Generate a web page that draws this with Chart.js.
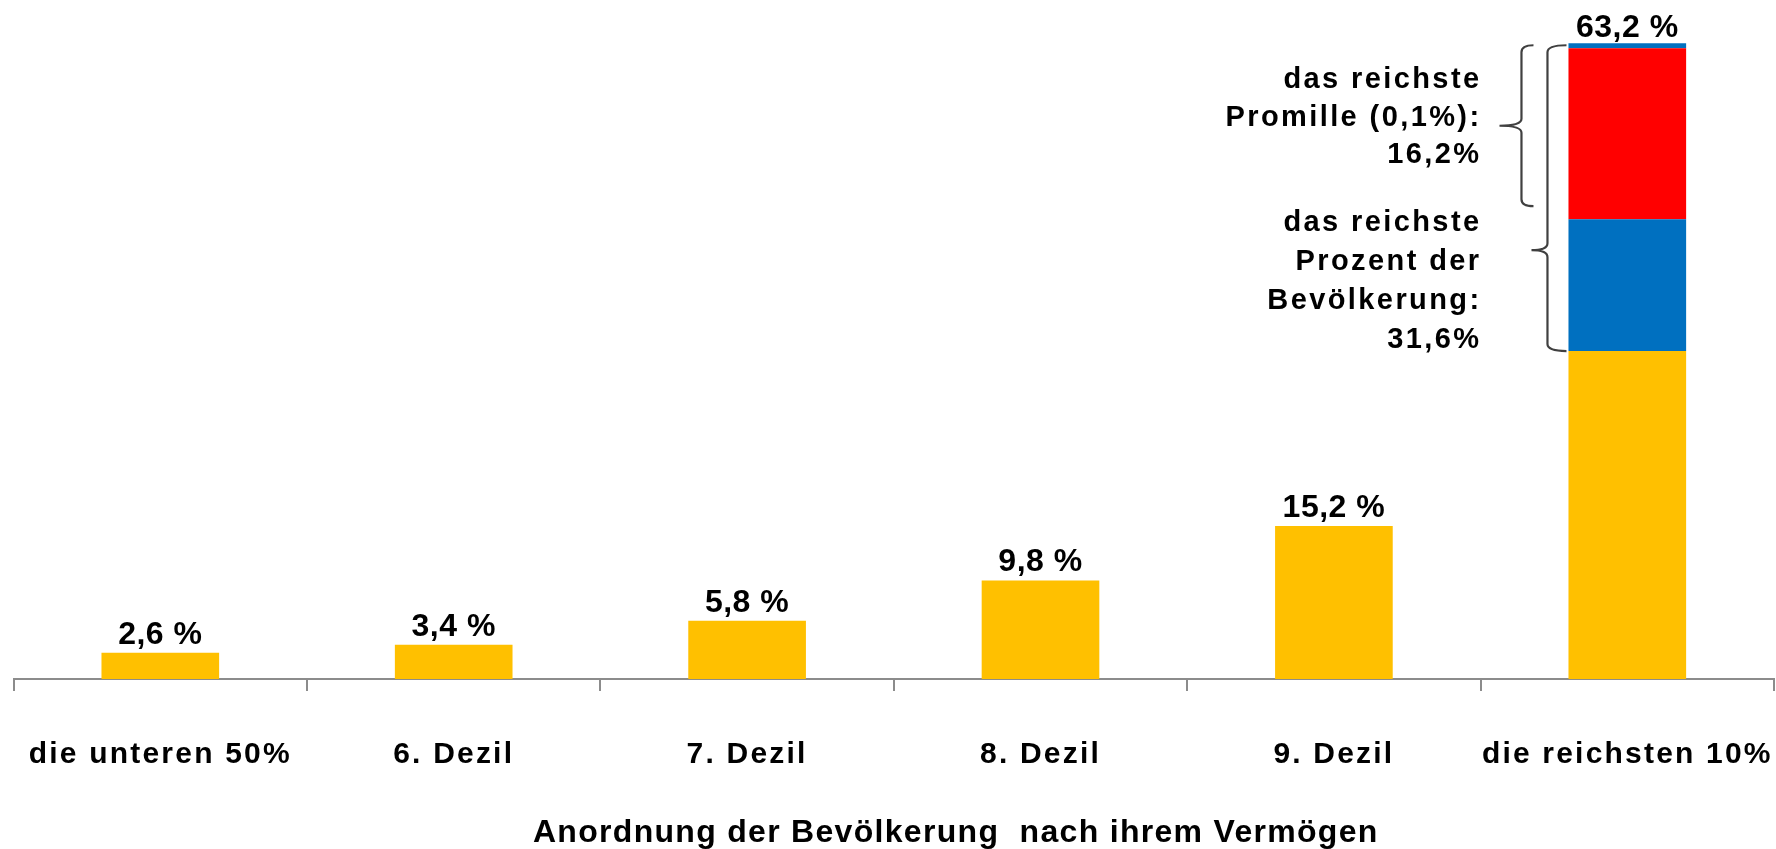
<!DOCTYPE html>
<html><head><meta charset="utf-8">
<script src="https://cdn.jsdelivr.net/npm/chart.js@4.4.1/dist/chart.umd.min.js"></script>
<style>html,body{margin:0;padding:0;background:#fff;overflow:hidden}</style>
</head><body>
<canvas id="c" width="1776" height="849"></canvas>
<script>
// ---- data ----
const categories = ['die unteren 50%', '6. Dezil', '7. Dezil', '8. Dezil', '9. Dezil', 'die reichsten 10%'];
const baseShare = [2.6, 3.4, 5.8, 9.8, 15.2, 32.6];        // yellow
const percentRest = [0, 0, 0, 0, 0, 13.1];                  // blue
const promilleShare = [0, 0, 0, 0, 0, 17.0];                // red
const topCap = [0, 0, 0, 0, 0, 0.5];                        // thin blue cap
const promilleValue = 16.2;
const annotationPromille = ['das reichste', 'Promille (0,1%):', '16,2%'];
const annotationProzent = ['das reichste', 'Prozent der', 'Bevölkerung:', '31,6%'];
const axisTitle = 'Anordnung der Bevölkerung  nach ihrem Vermögen';

const FONT = '"Liberation Sans", Arial, sans-serif';
const YELLOW = '#FFC000', BLUE = '#0070C0', RED = '#FF0000';

function totalAt(i) { return baseShare[i] + percentRest[i] + promilleShare[i] + topCap[i]; }

function drawBrace(ctx, xv, xh, xTip, yTop, yBot, yTip) {
  const r = 7;
  ctx.beginPath();
  ctx.moveTo(xh, yTop);
  ctx.quadraticCurveTo(xv, yTop, xv, yTop + r);
  ctx.lineTo(xv, yTip - r);
  ctx.quadraticCurveTo(xv, yTip, xTip, yTip);
  ctx.quadraticCurveTo(xv, yTip, xv, yTip + r);
  ctx.lineTo(xv, yBot - r);
  ctx.quadraticCurveTo(xv, yBot, xh, yBot);
  ctx.stroke();
}

const overlay = {
  id: 'overlay',
  beforeDraw(chart) { chart.ctx.letterSpacing = '2.2px'; },
  afterDraw(chart) {
    const ctx = chart.ctx, xs = chart.scales.x, ys = chart.scales.y;
    ctx.save();
    ctx.fillStyle = '#000';
    // value labels
    ctx.letterSpacing = '0.5px';
    ctx.font = 'bold 32px ' + FONT;
    ctx.textAlign = 'center';
    ctx.textBaseline = 'alphabetic';
    categories.forEach((c, i) => {
      const t = totalAt(i);
      const txt = t.toFixed(1).replace('.', ',') + ' %';
      const gap = i === categories.length - 1 ? 6 : 9;
      ctx.fillText(txt, xs.getPixelForValue(i), ys.getPixelForValue(t) - gap);
    });
    // braces
    const last = categories.length - 1;
    const bar = chart.getDatasetMeta(0).data[last];
    const L = bar.x - bar.width / 2;
    const total = totalAt(last);
    const yTop = ys.getPixelForValue(total) + 2;
    const yB1 = ys.getPixelForValue(total - promilleValue);
    const yB2 = ys.getPixelForValue(baseShare[last]);
    ctx.strokeStyle = '#404040';
    ctx.lineWidth = 2.2;
    drawBrace(ctx, L - 47, L - 35, L - 69, yTop, yB1, (yTop + yB1) / 2);
    drawBrace(ctx, L - 21, L - 2, L - 37, yTop, yB2, yTop + 0.67 * (yB2 - yTop));
    // annotation texts
    ctx.font = 'bold 29px ' + FONT;
    ctx.letterSpacing = '2.4px';
    ctx.textAlign = 'right';
    const tx = L - 87;
    const mid1 = (yTop + yB1) / 2;
    annotationPromille.forEach((s, k) => ctx.fillText(s, tx, mid1 + (k - 1) * 37.5));
    annotationProzent.forEach((s, k) => ctx.fillText(s, tx, yB2 - 3.5 - (annotationProzent.length - 1 - k) * 39));
    // axis title
    ctx.font = 'bold 32px ' + FONT;
    ctx.letterSpacing = '1.3px';
    ctx.textAlign = 'center';
    ctx.fillText(axisTitle, (chart.chartArea.left + chart.chartArea.right) / 2 + 62, chart.height - 7);
    ctx.restore();
    ctx.letterSpacing = '0px';
  }
};

const ds = (label, data, color) => ({
  label, data, backgroundColor: color, borderWidth: 0,
  barPercentage: 0.401, categoryPercentage: 1.0
});

new Chart(document.getElementById('c'), {
  type: 'bar',
  data: {
    labels: categories,
    datasets: [
      ds('Vermögensanteil', baseShare, YELLOW),
      ds('reichstes Prozent', percentRest, BLUE),
      ds('reichstes Promille', promilleShare, RED),
      ds('Spitze', topCap, BLUE)
    ]
  },
  options: {
    responsive: false,
    animation: false,
    devicePixelRatio: 1,
    layout: { padding: { left: 13.6, right: 2, top: 0, bottom: 0 } },
    plugins: { legend: { display: false }, tooltip: { enabled: false }, title: { display: false } },
    scales: {
      x: {
        stacked: true,
        grid: { display: true, drawOnChartArea: false, drawTicks: true, tickLength: 12, color: '#8c8c8c', lineWidth: 2, offset: true },
        border: { display: true, color: '#8c8c8c', width: 2 },
        ticks: { font: { family: FONT, size: 30, weight: 'bold' }, color: '#000', padding: 46, maxRotation: 0, autoSkip: false },
        afterFit(scale) { scale.height = 170; scale.paddingLeft = 0; scale.paddingRight = 0; }
      },
      y: { stacked: true, display: false, min: 0, max: 67.5 }
    }
  },
  plugins: [overlay]
});
</script>
</body></html>
